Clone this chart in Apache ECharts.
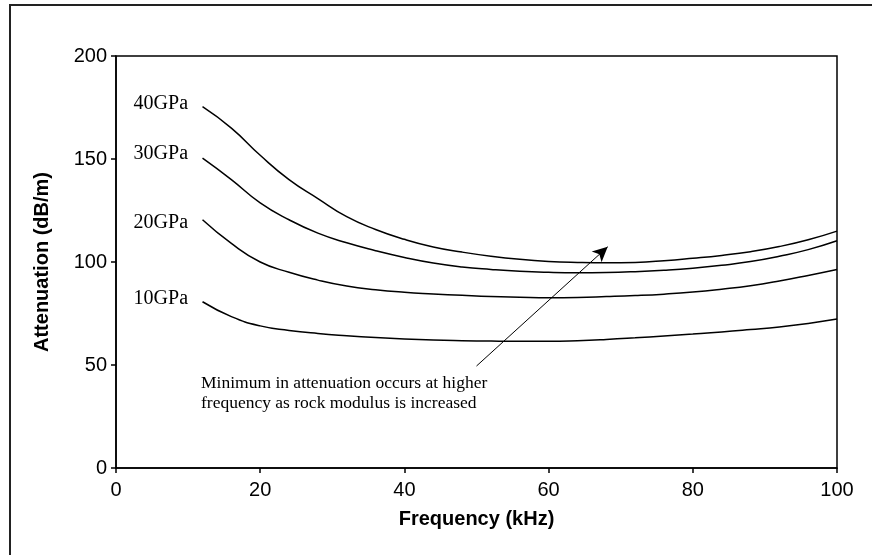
<!DOCTYPE html>
<html>
<head>
<meta charset="utf-8">
<script src="https://cdn.jsdelivr.net/npm/echarts@6/dist/echarts.min.js"></script>
<style>
  html, body { margin: 0; padding: 0; background: #fff; }
  #chart { width: 872px; height: 555px; }
</style>
</head>
<body>
<div id="chart"></div>
<script>
// frequency (kHz)
const freq = [12, 16, 20, 24, 28, 32, 36, 40, 44, 48, 52, 56, 60, 64, 68, 72, 76, 80, 84, 88, 92, 96, 100];

// attenuation (dB/m) for each rock modulus
const att40 = [175.4, 165, 151.8, 140, 130.8, 122, 115.8, 111, 107.3, 104.8, 102.8, 101.3, 100.3, 99.8, 99.6, 99.8, 100.6, 101.8, 103.2, 105, 107.5, 110.8, 115];
const att30 = [150.4, 140, 128.7, 120.5, 114, 109.3, 105.5, 102.2, 99.5, 97.6, 96.4, 95.5, 95, 94.8, 94.9, 95.3, 96, 97, 98.4, 100.2, 102.8, 106, 110.3];
const att20 = [120.5, 109, 100, 95, 91.2, 88.3, 86.5, 85.3, 84.5, 83.8, 83.2, 82.9, 82.7, 82.8, 83.2, 83.7, 84.4, 85.4, 86.8, 88.5, 90.8, 93.5, 96.4];
const att10 = [80.7, 73.5, 69, 66.8, 65.3, 64.2, 63.3, 62.6, 62.1, 61.8, 61.6, 61.5, 61.5, 61.8, 62.4, 63.2, 64.1, 65, 66, 67.2, 68.5, 70.2, 72.3];

const seriesNames = ['40GPa', '30GPa', '20GPa', '10GPa'];
const seriesData = [att40, att30, att20, att10];
const labelShift = [-3, -4, 3, -3];

// arrow of the annotation, in data units [freq, attenuation]
const arrowFrom = [50, 49.5];
const arrowTo = [68.2, 107.4];
const noteLines = ['Minimum in attenuation occurs at higher', 'frequency as rock modulus is increased'];

const chart = echarts.init(document.getElementById('chart'));

const series = seriesNames.map((name, i) => ({
  name: name,
  type: 'line',
  smooth: 0.5,
  symbol: 'none',
  lineStyle: { color: '#000', width: 1.5 },
  data: freq.map((f, j) => [f, seriesData[i][j]]),
  markPoint: {
    silent: true,
    symbol: 'circle',
    symbolSize: 1,
    itemStyle: { color: 'rgba(0,0,0,0)' },
    data: [{
      coord: [freq[0], seriesData[i][0]],
      label: {
        show: true,
        position: 'left',
        distance: 14,
        offset: [0, labelShift[i]],
        formatter: name,
        fontFamily: 'Liberation Serif',
        fontSize: 20,
        color: '#000'
      }
    }]
  }
}));

series[0].markLine = {
  silent: true,
  symbol: ['none', 'arrow'],
  symbolSize: [11, 15],
  label: { show: false },
  lineStyle: { color: '#000', width: 1, type: 'solid' },
  data: [[{ coord: arrowFrom }, { coord: arrowTo }]]
};

const option = {
  backgroundColor: '#fff',
  animation: false,
  grid: {
    left: 116,
    right: 35,
    top: 56,
    bottom: 87,
    show: true,
    borderColor: '#000',
    borderWidth: 1.5,
    backgroundColor: 'transparent'
  },
  xAxis: {
    type: 'value',
    min: 0,
    max: 100,
    interval: 20,
    name: 'Frequency (kHz)',
    nameLocation: 'middle',
    nameGap: 41,
    nameTextStyle: { fontFamily: 'Liberation Sans', fontWeight: 'bold', fontSize: 20, color: '#000' },
    axisLine: { show: true, lineStyle: { color: '#000', width: 1.5 } },
    axisTick: { show: true, length: 5, lineStyle: { color: '#000', width: 1.5 } },
    axisLabel: { fontFamily: 'Liberation Sans', fontSize: 20, color: '#000', margin: 12 },
    splitLine: { show: false }
  },
  yAxis: {
    type: 'value',
    min: 0,
    max: 200,
    interval: 50,
    name: 'Attenuation (dB/m)',
    nameLocation: 'middle',
    nameGap: 64,
    nameTextStyle: { fontFamily: 'Liberation Sans', fontWeight: 'bold', fontSize: 20, color: '#000' },
    axisLine: { show: true, lineStyle: { color: '#000', width: 1.5 } },
    axisTick: { show: true, length: 5, lineStyle: { color: '#000', width: 1.5 } },
    axisLabel: { fontFamily: 'Liberation Sans', fontSize: 20, color: '#000', margin: 9 },
    splitLine: { show: false }
  },
  graphic: [
    {
      type: 'rect',
      shape: { x: 10, y: 5, width: 900, height: 600 },
      style: { fill: 'none', stroke: '#222', lineWidth: 2 },
      silent: true,
      z: -1
    },
    {
      type: 'text',
      left: 201,
      top: 373,
      style: {
        text: noteLines.join('\n'),
        font: '17.5px "Liberation Serif"',
        lineHeight: 20,
        fill: '#000'
      }
    }
  ],
  series: series
};

chart.setOption(option);
</script>
</body>
</html>
